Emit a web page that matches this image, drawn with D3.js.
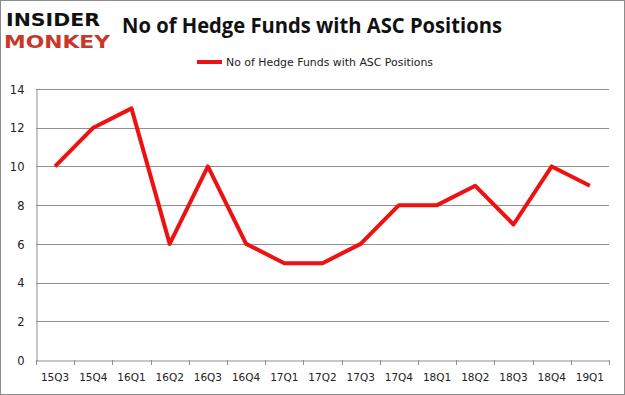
<!DOCTYPE html>
<html>
<head>
<meta charset="utf-8">
<script src="https://cdn.jsdelivr.net/npm/d3@7"></script>
<style>
  body { margin: 0; background: #fff; }
  svg { display: block; font-family: "DejaVu Sans", sans-serif; }
</style>
</head>
<body>
<div id="chart"></div>
<script>
var quarters = ["15Q3","15Q4","16Q1","16Q2","16Q3","16Q4","17Q1","17Q2","17Q3","17Q4","18Q1","18Q2","18Q3","18Q4","19Q1"];
var funds = [10,12,13,6,10,6,5,5,6,8,8,9,7,10,9];
var yTicks = [0,2,4,6,8,10,12,14];
var seriesName = "No of Hedge Funds with ASC Positions";

var width = 625, height = 395;
var plotLeft = 36, plotRight = 609, plotTop = 89, plotBottom = 360;

var svg = d3.select("#chart").append("svg")
    .attr("width", width)
    .attr("height", height);

svg.append("rect")
    .attr("x", 0.5).attr("y", 0.5)
    .attr("width", width - 1).attr("height", height - 1)
    .attr("fill", "#fff")
    .attr("stroke", "#8c8c8c");

var x = d3.scaleBand().domain(quarters).range([plotLeft, plotRight]);
var y = d3.scaleLinear().domain([0, 14]).range([plotBottom, plotTop]);

// gridlines
svg.append("g").selectAll("line")
    .data(yTicks.filter(function(d) { return d > 0; }))
    .enter().append("line")
    .attr("x1", plotLeft).attr("x2", plotRight)
    .attr("y1", function(d) { return Math.round(y(d)) + 0.5; })
    .attr("y2", function(d) { return Math.round(y(d)) + 0.5; })
    .attr("stroke", "#8f8f8f")
    .attr("stroke-width", 1);

// y axis
var yAxis = svg.append("g")
    .attr("transform", "translate(" + (plotLeft + 0.5) + ",0.5)")
    .call(d3.axisLeft(y).tickValues(yTicks).tickSize(0).tickPadding(12));
yAxis.select(".domain").attr("stroke", "#8f8f8f");
yAxis.selectAll("text").attr("fill", "#222")
    .style("font-family", "'DejaVu Sans', sans-serif").attr("font-size", 11.5);

// x axis
var xAxis = svg.append("g")
    .attr("transform", "translate(0," + (plotBottom + 0.5) + ")")
    .call(d3.axisBottom(x).tickSize(0).tickPadding(13));
xAxis.select(".domain").attr("stroke", "#8f8f8f");
xAxis.selectAll("text").attr("fill", "#222")
    .style("font-family", "'DejaVu Sans', sans-serif").attr("font-size", 10.5);
svg.append("g").selectAll("line")
    .data(quarters.concat([null]))
    .enter().append("line")
    .attr("x1", function(d, i) { return Math.round(plotLeft + i * x.step()) + 0.5; })
    .attr("x2", function(d, i) { return Math.round(plotLeft + i * x.step()) + 0.5; })
    .attr("y1", plotBottom).attr("y2", plotBottom + 5)
    .attr("stroke", "#8f8f8f");

// line
var line = d3.line()
    .x(function(d, i) { return x(quarters[i]) + x.bandwidth() / 2; })
    .y(function(d) { return y(d); });
svg.append("path")
    .datum(funds)
    .attr("d", line)
    .attr("fill", "none")
    .attr("stroke", "#ee1111")
    .attr("stroke-width", 4)
    .attr("stroke-linejoin", "round");

// title
svg.append("text")
    .attr("x", 312).attr("y", 33)
    .attr("text-anchor", "middle")
    .attr("font-size", 21).attr("font-weight", "bold")
    .attr("fill", "#111")
    .style("font-family", "'Open Sans', 'DejaVu Sans', sans-serif")
    .attr("textLength", 380).attr("lengthAdjust", "spacingAndGlyphs")
    .text(seriesName);

// legend
svg.append("line")
    .attr("x1", 197).attr("x2", 222)
    .attr("y1", 62).attr("y2", 62)
    .attr("stroke", "#ee1111").attr("stroke-width", 4);
svg.append("text")
    .attr("x", 226).attr("y", 66)
    .attr("font-size", 11).attr("fill", "#222")
    .style("font-family", "'DejaVu Sans', sans-serif")
    .attr("textLength", 207).attr("lengthAdjust", "spacingAndGlyphs")
    .text(seriesName);

// logo
svg.append("text")
    .attr("x", 6).attr("y", 26)
    .attr("font-size", 18).attr("font-weight", 900)
    .attr("fill", "#111")
    .attr("textLength", 94).attr("lengthAdjust", "spacingAndGlyphs")
    .text("INSIDER");
svg.append("text")
    .attr("x", 4).attr("y", 48)
    .attr("font-size", 18).attr("font-weight", 900)
    .attr("fill", "#c9362a")
    .attr("textLength", 106).attr("lengthAdjust", "spacingAndGlyphs")
    .text("MONKEY");
</script>
</body>
</html>
